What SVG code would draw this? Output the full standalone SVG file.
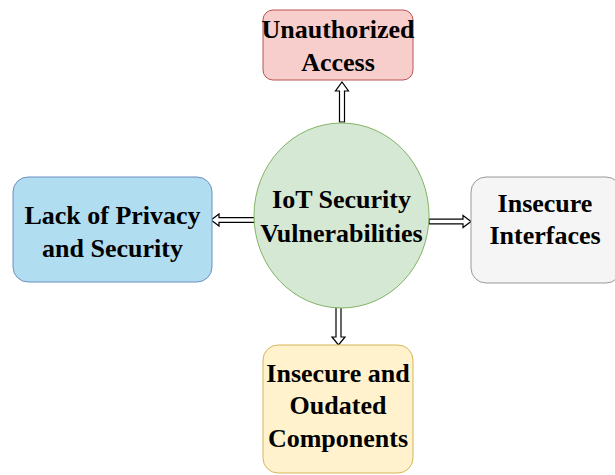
<svg xmlns="http://www.w3.org/2000/svg" width="615" height="475" viewBox="0 0 615 475">
<style>
.lbl{font-family:"Liberation Serif","Times New Roman",serif;font-weight:bold;font-size:26px;fill:#000;text-anchor:middle}
.arr{fill:#fff;stroke:#000;stroke-width:1.2;stroke-linejoin:miter}
</style>
<rect width="615" height="475" fill="#fff"/>
<g id="connectors">
<polygon class="arr" points="339.5,122 339.5,91 335.5,91 342,82 348.5,91 344.5,91 344.5,122"/>
<polygon class="arr" points="336,307 336,337 332,337 338.5,345 345,337 341,337 341,307"/>
<polygon class="arr" points="255,217.7 219,217.7 219,214 211,220 219,226 219,222.3 255,222.3"/>
<polygon class="arr" points="429,219.2 463,219.2 463,215.5 471,221.5 463,227.5 463,223.8 429,223.8"/>
</g>
<g id="center">
<ellipse cx="341.5" cy="215.5" rx="87.5" ry="92.5" fill="#d5e8d4" stroke="#82b366" stroke-width="1"/>
<text class="lbl" x="341.5" y="208">IoT Security</text>
<text class="lbl" x="341.5" y="242">Vulnerabilities</text>
</g>
<g id="unauthorized">
<rect x="263" y="10" width="150" height="70" rx="10" fill="#f8cecc" stroke="#b85450" stroke-width="1"/>
<text class="lbl" x="338" y="38">Unauthorized</text>
<text class="lbl" x="338" y="71">Access</text>
</g>
<g id="privacy">
<rect x="13" y="177" width="199" height="105" rx="15" fill="#b1ddf0" stroke="#6c8ebf" stroke-width="1"/>
<text class="lbl" x="112.5" y="224">Lack of Privacy</text>
<text class="lbl" x="112.5" y="257">and Security</text>
</g>
<g id="interfaces">
<rect x="471" y="177" width="150" height="106" rx="15" fill="#f5f5f5" stroke="#999999" stroke-width="1"/>
<text class="lbl" x="545" y="212">Insecure</text>
<text class="lbl" x="545" y="244">Interfaces</text>
</g>
<g id="components">
<rect x="263" y="345" width="150" height="128" rx="15" fill="#fff2cc" stroke="#d6b656" stroke-width="1"/>
<text class="lbl" x="338" y="382">Insecure and</text>
<text class="lbl" x="338" y="414">Oudated</text>
<text class="lbl" x="338" y="447">Components</text>
</g>
</svg>
